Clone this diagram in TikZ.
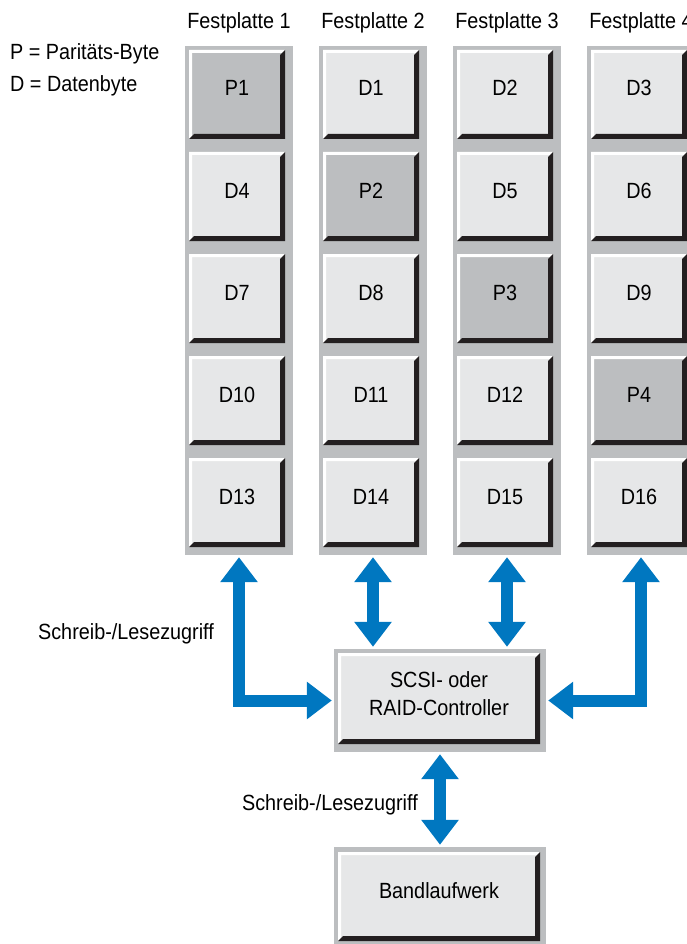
\documentclass[tikz,border=0pt]{standalone}
\usepackage{fontspec}
\setmainfont[FakeStretch=0.9]{Liberation Sans}
\usetikzlibrary{arrows.meta}
\definecolor{colgray}{RGB}{188,190,192}
\definecolor{dfill}{RGB}{230,231,232}
\definecolor{pfill}{RGB}{188,190,192}
\definecolor{edgeblack}{RGB}{35,31,32}
\definecolor{linkblue}{RGB}{0,119,192}

\begin{document}
\begin{tikzpicture}[x=1pt,y=-1pt,>={Triangle[width=36pt,length=25pt]},
  every node/.style={font=\fontsize{22}{28}\selectfont,inner sep=0pt},
  diskcol/.style={fill=colgray,minimum width=108pt,minimum height=509pt},
  boxframe/.style={fill=colgray,minimum width=212pt},
  bevelbox/.style={fill=#1,minimum width=96pt,minimum height=89pt,text height=15pt,text depth=12pt,
    path picture={
      \fill[white] (path picture bounding box.south west) -- (path picture bounding box.north west)
        -- (path picture bounding box.north east) -- ([xshift=-3pt,yshift=-3pt]path picture bounding box.north east)
        -- ([xshift=3pt,yshift=-3pt]path picture bounding box.north west) -- ([xshift=3pt,yshift=3pt]path picture bounding box.south west) -- cycle;
      \fill[edgeblack] (path picture bounding box.south west) -- (path picture bounding box.south east)
        -- (path picture bounding box.north east) -- ([xshift=-5pt,yshift=-5pt]path picture bounding box.north east)
        -- ([xshift=-5pt,yshift=5pt]path picture bounding box.south east) -- ([xshift=5pt,yshift=5pt]path picture bounding box.south west) -- cycle;
    }},
  dbox/.style={bevelbox=dfill},
  pbox/.style={bevelbox=pfill},
  link/.style={<->,draw=linkblue,line width=12pt,line join=miter,shorten <=2pt,shorten >=2pt}]
  \useasboundingbox (0,0) rectangle (687,944);
  \clip (0,0) rectangle (687,944);

  % legend
  \node[anchor=base west] (keyp) at (10,59.5) {P = Paritäts-Byte};
  \node[anchor=base west] (keyd) at (10,91.5) {D = Datenbyte};

  % disks
  \node[anchor=base] (h1) at (239,28.5) {Festplatte 1};
  \node[anchor=base] (h2) at (373,28.5) {Festplatte 2};
  \node[anchor=base] (h3) at (507,28.5) {Festplatte 3};
  \node[anchor=base] (h4) at (641,28.5) {Festplatte 4};
  \node[diskcol] (disk1) at (239,300.5) {};
  \node[diskcol] (disk2) at (373,300.5) {};
  \node[diskcol] (disk3) at (507,300.5) {};
  \node[diskcol] (disk4) at (641,300.5) {};

  \node[pbox] (p1) at (237,94.5) {P1};
  \node[dbox] (d4) at (237,196.5) {D4};
  \node[dbox] (d7) at (237,298.5) {D7};
  \node[dbox] (d10) at (237,400.5) {D10};
  \node[dbox] (d13) at (237,502.5) {D13};

  \node[dbox] (d1) at (371,94.5) {D1};
  \node[pbox] (p2) at (371,196.5) {P2};
  \node[dbox] (d8) at (371,298.5) {D8};
  \node[dbox] (d11) at (371,400.5) {D11};
  \node[dbox] (d14) at (371,502.5) {D14};

  \node[dbox] (d2) at (505,94.5) {D2};
  \node[dbox] (d5) at (505,196.5) {D5};
  \node[pbox] (p3) at (505,298.5) {P3};
  \node[dbox] (d12) at (505,400.5) {D12};
  \node[dbox] (d15) at (505,502.5) {D15};

  \node[dbox] (d3) at (639,94.5) {D3};
  \node[dbox] (d6) at (639,196.5) {D6};
  \node[dbox] (d9) at (639,298.5) {D9};
  \node[pbox] (p4) at (639,400.5) {P4};
  \node[dbox] (d16) at (639,502.5) {D16};

  % controller and tape
  \node[boxframe,minimum height=103pt] (ctrl) at (440,700.5) {};
  \node[dbox,minimum width=202pt,minimum height=91pt,text height=49pt,text depth=15pt,align=center] (ctrlbox) at (439,698.5) {SCSI- oder\\RAID-Controller};
  \node[boxframe,minimum height=97pt] (tape) at (440,895.5) {};
  \node[dbox,minimum width=202pt] (tapebox) at (439,896.5) {Bandlaufwerk};

  \draw[link] (disk1.south) |- (ctrl.west);
  \draw[link] (disk2.south) -- (disk2.south |- ctrl.north);
  \draw[link] (disk3.south) -- (disk3.south |- ctrl.north);
  \draw[link] (disk4.south) |- (ctrl.east);
  \draw[link] (ctrl.south) -- (tape.north);

  \node[anchor=base] (rw1) at (126,639.5) {Schreib-/Lesezugriff};
  \node[anchor=base east] (rw2) at (418,810.5) {Schreib-/Lesezugriff};
\end{tikzpicture}
\end{document}
